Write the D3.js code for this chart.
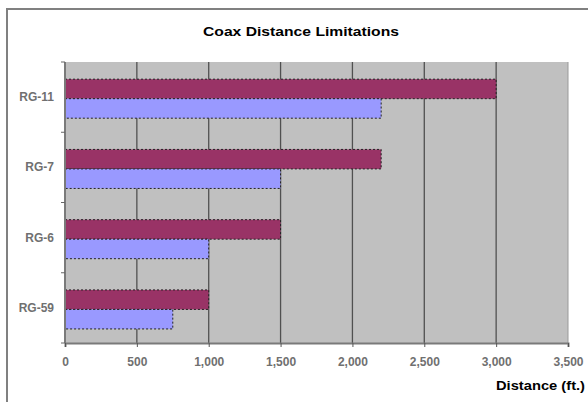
<!DOCTYPE html>
<html>
<head>
<meta charset="utf-8">
<script src="https://cdn.jsdelivr.net/npm/d3@7"></script>
<style>
  body { margin: 0; background: #fff; }
  svg { display: block; font-family: "Liberation Sans", Arial, sans-serif; }
</style>
</head>
<body>
<svg id="chart" width="588" height="402"></svg>
<script>
// data, top to bottom
var categories = ["RG-11", "RG-7", "RG-6", "RG-59"];
var seriesNames = ["max", "typical"];
var maxValues = [3000, 2200, 1500, 1000];
var typicalValues = [2200, 1500, 1000, 750];
var xTicks = [0, 500, 1000, 1500, 2000, 2500, 3000, 3500];
var colors = { max: "#993366", typical: "#9999ff" };

var svg = d3.select("#chart");

var plot = { left: 65, right: 568, top: 62, bottom: 343 };

var x = d3.scaleLinear().domain([0, 3500]).range([plot.left, plot.right]);
var y = d3.scaleBand().domain(categories).range([plot.top, plot.bottom]);
var ySub = d3.scaleBand()
  .domain(seriesNames)
  .range([0, y.bandwidth()])
  .paddingOuter(0.8)
  .align(0.55);

// outer chart frame
svg.append("rect")
  .attr("x", 7).attr("y", 9)
  .attr("width", 700).attr("height", 500)
  .attr("fill", "none")
  .attr("stroke", "#808080")
  .attr("stroke-width", 2);

// title
svg.append("text")
  .attr("x", 301).attr("y", 36)
  .attr("text-anchor", "middle")
  .attr("font-size", 13)
  .attr("font-weight", "bold")
  .attr("textLength", 196)
  .attr("lengthAdjust", "spacingAndGlyphs")
  .text("Coax Distance Limitations");

// plot background
svg.append("rect")
  .attr("x", plot.left).attr("y", plot.top)
  .attr("width", plot.right - plot.left)
  .attr("height", plot.bottom - plot.top)
  .attr("fill", "#c0c0c0");

// gridlines
svg.append("g").selectAll("line")
  .data(xTicks.filter(function (d) { return d > 0 && d < 3500; }))
  .join("line")
  .attr("x1", function (d) { return x(d); })
  .attr("x2", function (d) { return x(d); })
  .attr("y1", plot.top)
  .attr("y2", plot.bottom)
  .attr("stroke", "#505050")
  .attr("stroke-width", 1.3);

svg.append("line")
  .attr("x1", x(3500)).attr("x2", x(3500))
  .attr("y1", plot.top).attr("y2", plot.bottom)
  .attr("stroke", "#9a9a9a");

// bars
var rows = categories.map(function (c, i) {
  return { cat: c, max: maxValues[i], typical: typicalValues[i] };
});

var groups = svg.append("g").selectAll("g")
  .data(rows)
  .join("g")
  .attr("transform", function (d) { return "translate(0," + y(d.cat) + ")"; });

groups.selectAll("rect")
  .data(function (d) {
    return seriesNames.map(function (s) { return { key: s, value: d[s] }; });
  })
  .join("rect")
  .attr("x", x(0))
  .attr("y", function (d) { return ySub(d.key); })
  .attr("width", function (d) { return x(d.value) - x(0); })
  .attr("height", ySub.bandwidth())
  .attr("fill", function (d) { return colors[d.key]; })
  .attr("stroke", "#222")
  .attr("stroke-width", 1)
  .attr("stroke-dasharray", "2,2");

// bottom axis
var xAxis = d3.axisBottom(x)
  .tickValues(xTicks)
  .tickSize(4)
  .tickPadding(10)
  .tickFormat(d3.format(","));

var gx = svg.append("g")
  .attr("transform", "translate(0," + plot.bottom + ")")
  .call(xAxis);
gx.select(".domain").attr("stroke", "#7a7a7a").attr("stroke-width", 2);
gx.selectAll(".tick line").attr("stroke", "#555");
gx.selectAll(".tick text")
  .attr("fill", "#707070")
  .attr("font-size", 12)
  .attr("font-weight", "bold")
  .attr("font-family", "Liberation Sans, Arial, sans-serif");

// left axis with ticks between categories
var bounds = categories.map(function (c) { return y(c); }).concat([plot.bottom]);
var gy = svg.append("g");
gy.append("line")
  .attr("x1", plot.left).attr("x2", plot.left)
  .attr("y1", plot.top).attr("y2", plot.bottom)
  .attr("stroke", "#7a7a7a")
  .attr("stroke-width", 2);
gy.selectAll("line.tick")
  .data(bounds)
  .join("line")
  .attr("class", "tick")
  .attr("x1", plot.left - 4).attr("x2", plot.left)
  .attr("y1", function (d) { return d; })
  .attr("y2", function (d) { return d; })
  .attr("stroke", "#666");
gy.selectAll("text")
  .data(categories)
  .join("text")
  .attr("x", plot.left - 11)
  .attr("y", function (d) { return y(d) + y.bandwidth() / 2 + 4; })
  .attr("text-anchor", "end")
  .attr("font-size", 12)
  .attr("font-weight", "bold")
  .attr("fill", "#707070")
  .text(function (d) { return d; });

// axis title
svg.append("text")
  .attr("x", 585).attr("y", 390)
  .attr("text-anchor", "end")
  .attr("font-size", 13)
  .attr("font-weight", "bold")
  .attr("textLength", 89)
  .attr("lengthAdjust", "spacingAndGlyphs")
  .text("Distance (ft.)");
</script>
</body>
</html>
